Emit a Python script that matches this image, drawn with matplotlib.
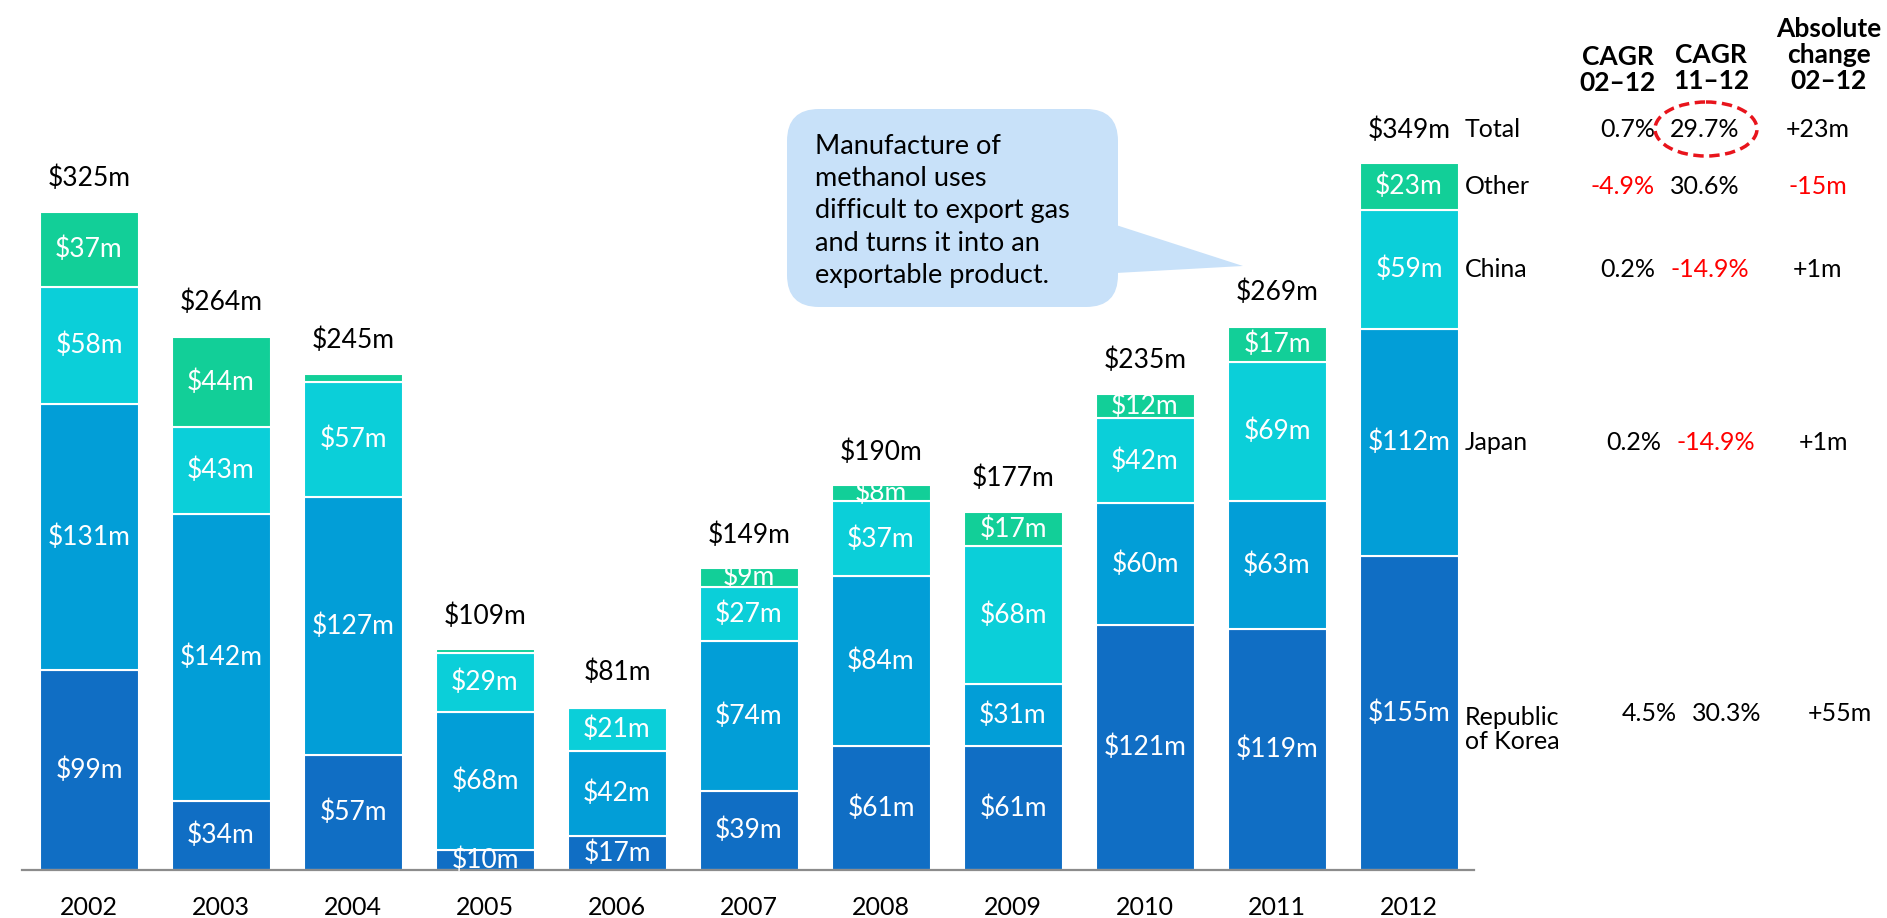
import matplotlib
matplotlib.use("Agg")
import matplotlib.pyplot as plt
from matplotlib.patches import FancyBboxPatch, Polygon, Ellipse
from matplotlib.transforms import blended_transform_factory

plt.rcParams["font.family"] = ["Lato", "DejaVu Sans"]

# data (US$ m)
years = ["2002", "2003", "2004", "2005", "2006", "2007", "2008", "2009", "2010", "2011", "2012"]
korea = [99, 34, 57, 10, 17, 39, 61, 61, 121, 119, 155]
japan = [131, 142, 127, 68, 42, 74, 84, 31, 60, 63, 112]
china = [58, 43, 57, 29, 21, 27, 37, 68, 42, 69, 59]
other = [37, 44, 4, 2, 1, 9, 8, 17, 12, 17, 23]
totals = [325, 264, 245, 109, 81, 149, 190, 177, 235, 269, 349]

row_names = ["Total", "Other", "China", "Japan", "Republic\nof Korea"]
cagr_0212 = ["0.7%", "-4.9%", "0.2%", "0.2%", "4.5%"]
cagr_1112 = ["29.7%", "30.6%", "-14.9%", "-14.9%", "30.3%"]
abs_change = ["+23m", "-15m", "+1m", "+1m", "+55m"]

callout_lines = ["Manufacture of", "methanol uses", "difficult to export gas",
                 "and turns it into an", "exportable product."]

colors = ["#106EC4", "#029ED7", "#0BCFD9", "#12CF98"]

W, H = 1887, 918
fig = plt.figure(figsize=(W / 100, H / 100), dpi=100)

# main axes: bar i centred at 89 + 132*i px, baseline at 870 px, 2.025 px per $m
ax = fig.add_axes([22 / W, 48 / H, (1474 - 22) / W, 870 / H])
ax.set_xlim((22 - 89) / 132, (1474 - 89) / 132)
ax.set_ylim(0, 870 / 2.025)

# overlay in pixel coords (top-left origin)
ov = fig.add_axes([0, 0, 1, 1], zorder=5)
ov.set_xlim(0, W)
ov.set_ylim(H, 0)
ov.axis("off")

x = list(range(len(years)))
bottom = [0] * len(years)
for vals, c in zip([korea, japan, china, other], colors):
    ax.bar(x, vals, bottom=bottom, width=0.75, color=c, edgecolor="white", linewidth=1.5)
    for i, v in enumerate(vals):
        if v >= 8:
            ax.text(i, bottom[i] + v / 2, f"${v}m", ha="center", va="center",
                    color="white", fontsize=19)
    bottom = [b + v for b, v in zip(bottom, vals)]

for i, t in enumerate(totals):
    ax.text(i, t + 16.5, f"${t}m", ha="center", va="center", fontsize=19)

ax.set_xticks(x, years)
ax.tick_params(axis="x", length=0, pad=19, labelsize=18)
ax.set_yticks([])
for s in ["left", "top", "right"]:
    ax.spines[s].set_visible(False)
ax.spines["bottom"].set_color("#8C8C8C")
ax.spines["bottom"].set_linewidth(1.6)

# right-hand table
last = len(years) - 1
k, j, c, o = korea[last], japan[last], china[last], other[last]
row_y = [totals[last] + 16.5, k + j + c + o / 2, k + j + c / 2, k + j / 2, k / 2]
row_dx = [0, 0, 0, 6, 22]
tr = blended_transform_factory(ov.transData, ax.transData)

for r, name in enumerate(row_names):
    y = row_y[r]
    ly = y - 8 if "\n" in name else y
    ax.text(1465, ly, name, transform=tr, ha="left", va="center", fontsize=18,
            linespacing=1.05, clip_on=False)
    dx = row_dx[r]
    for txt, xp, ha in [(cagr_0212[r], 1655 + dx, "right"),
                        (cagr_1112[r], 1670 + dx, "left"),
                        (abs_change[r], 1818 + dx, "center")]:
        col = "#FF0000" if txt.startswith("-") else "black"
        ax.text(xp, y, txt, transform=tr, ha=ha, va="center", fontsize=18,
                color=col, clip_on=False)

ov.text(1618, 70, "CAGR\n02–12", ha="center", va="center", fontsize=19,
        fontweight="bold", linespacing=1.1)
ov.text(1711, 68, "CAGR\n11–12", ha="center", va="center", fontsize=19,
        fontweight="bold", linespacing=1.1)
ov.text(1829, 55, "Absolute\nchange\n02–12", ha="center", va="center", fontsize=19,
        fontweight="bold", linespacing=1.1)

ov.add_patch(Ellipse((1706, 129), 102, 54, fill=False, edgecolor="#E8141C",
                     linestyle=(0, (3, 1.6)), linewidth=2.5))

# callout bubble
ov.add_patch(FancyBboxPatch((787, 109), 331, 198,
                            boxstyle="round,pad=0,rounding_size=32",
                            facecolor="#C8E1F9", edgecolor="none"))
ov.add_patch(Polygon([(1116, 225), (1243, 266), (1116, 273)], closed=True,
                     facecolor="#C8E1F9", edgecolor="none"))
for n, line in enumerate(callout_lines):
    ov.text(815, 154 + 32.2 * n, line, ha="left", va="baseline", fontsize=19.5)

fig.savefig("out.png", dpi=100)
